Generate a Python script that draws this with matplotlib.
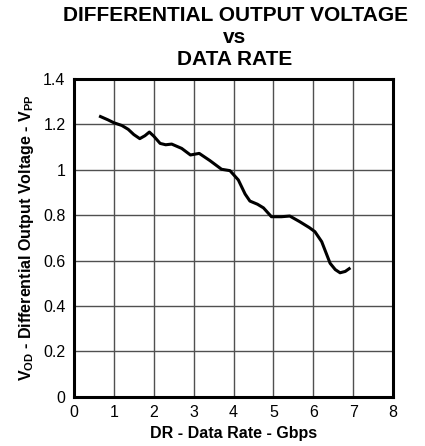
import matplotlib
matplotlib.use('Agg')
import matplotlib.pyplot as plt

plt.rcParams['font.family'] = ['Liberation Sans', 'DejaVu Sans']
plt.rcParams['mathtext.fontset'] = 'custom'
plt.rcParams['mathtext.bf'] = 'Liberation Sans:bold'
plt.rcParams['mathtext.rm'] = 'Liberation Sans:bold'

# curve
data_rate = [0.63, 0.85, 1.0, 1.2, 1.36, 1.5, 1.65, 1.78, 1.89, 2.0, 2.16, 2.3, 2.45,
             2.7, 2.92, 3.14, 3.41, 3.7, 3.91, 4.12, 4.29, 4.41, 4.6, 4.75, 4.95,
             5.2, 5.41, 5.66, 5.9, 6.04, 6.21, 6.42, 6.55, 6.67, 6.8, 6.93]
vod = [1.237, 1.22, 1.207, 1.195, 1.178, 1.155, 1.137, 1.15, 1.166, 1.148, 1.116, 1.11, 1.113,
       1.094, 1.065, 1.072, 1.04, 1.002, 0.996, 0.955, 0.893, 0.862, 0.848, 0.832, 0.793,
       0.793, 0.796, 0.771, 0.745, 0.727, 0.683, 0.588, 0.56, 0.546, 0.552, 0.568]
x_ticks = [0, 1, 2, 3, 4, 5, 6, 7, 8]
y_ticks = [0, 0.2, 0.4, 0.6, 0.8, 1, 1.2, 1.4]
y_tick_labels = ['0', '0.2', '0.4', '0.6', '0.8', '1', '1.2', '1.4']

fig = plt.figure(figsize=(4.25, 4.46), dpi=100)
ax = fig.add_axes([0.174, 0.1105, 0.751, 0.7125])

ax.plot(data_rate, vod, color='black', linewidth=2.2, solid_capstyle='butt')

ax.set_xlim(0, 8)
ax.set_ylim(0, 1.4)
ax.set_xticks(x_ticks)
ax.set_yticks(y_ticks)
ax.set_yticklabels(y_tick_labels)
ax.tick_params(length=0, labelsize=11.5, pad=6)
ax.grid(True, color='#505050', linewidth=1)
for s in ax.spines.values():
    s.set_linewidth(2.2)
    s.set_color('black')

ax.set_xlabel('DR - Data Rate - Gbps', fontsize=11.5, fontweight='bold', labelpad=4)
ax.set_ylabel(r'V$_\mathbf{OD}$ - Differential Output Voltage - V$_\mathbf{PP}$',
              fontsize=11.5, fontweight='bold', labelpad=5)

fig.text(0.553, 0.986, 'DIFFERENTIAL OUTPUT VOLTAGE\nvs\nDATA RATE', ha='center', va='top',
         fontsize=15, fontweight='bold', linespacing=1.18)

fig.savefig('out.png', dpi=100)
